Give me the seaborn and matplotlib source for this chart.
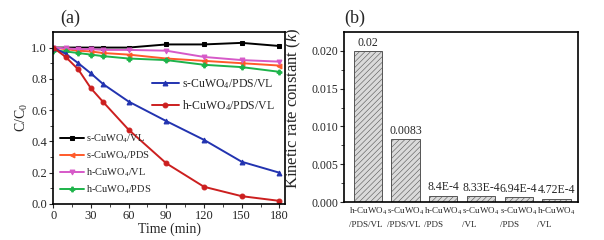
import matplotlib
matplotlib.use("Agg")
import matplotlib.pyplot as plt
import seaborn as sns
import pandas as pd
import numpy as np

# ---- data ----
time = [0, 10, 20, 30, 40, 60, 90, 120, 150, 180]
s_vl = [1.00, 1.00, 1.00, 1.00, 1.00, 1.00, 1.02, 1.02, 1.03, 1.01]
s_pds = [1.00, 0.99, 0.98, 0.975, 0.965, 0.955, 0.93, 0.915, 0.90, 0.885]
h_vl = [1.00, 0.995, 0.99, 0.99, 0.985, 0.985, 0.98, 0.94, 0.92, 0.91]
h_pds = [0.98, 0.975, 0.965, 0.955, 0.945, 0.93, 0.92, 0.89, 0.875, 0.845]
s_pds_vl = [1.00, 0.96, 0.90, 0.835, 0.765, 0.655, 0.53, 0.41, 0.27, 0.20]
h_pds_vl = [1.00, 0.94, 0.86, 0.74, 0.65, 0.475, 0.26, 0.11, 0.05, 0.02]

bar_labels = ["h-CuWO$_4$\n/PDS/VL", "s-CuWO$_4$\n/PDS/VL", "h-CuWO$_4$\n/PDS",
              "s-CuWO$_4$\n/VL", "s-CuWO$_4$\n/PDS", "h-CuWO$_4$\n/VL"]
k_values = [0.02, 0.0083, 8.4e-4, 8.33e-4, 6.94e-4, 4.72e-4]
k_text = ["0.02", "0.0083", "8.4E-4", "8.33E-4", "6.94E-4", "4.72E-4"]

sns.set_theme(style="ticks")
plt.rcParams['font.family'] = ['Liberation Serif', 'DejaVu Serif']
plt.rcParams['mathtext.fontset'] = 'custom'
plt.rcParams['mathtext.rm'] = 'Liberation Serif'
plt.rcParams['mathtext.it'] = 'Liberation Serif:italic'
plt.rcParams['hatch.linewidth'] = 0.4
plt.rcParams['hatch.color'] = '#999999'

fig = plt.figure(figsize=(6.04, 2.4), dpi=100)
ax1 = fig.add_axes([0.088, 0.150, 0.384, 0.717])
ax2 = fig.add_axes([0.570, 0.158, 0.387, 0.709])

series = [
    ("s-CuWO$_4$/VL", s_vl, "black", "s"),
    ("s-CuWO$_4$/PDS", s_pds, "#ff5a2a", "<"),
    ("h-CuWO$_4$/VL", h_vl, "#d659c8", "v"),
    ("h-CuWO$_4$/PDS", h_pds, "#1db34a", "P"),
    ("s-CuWO$_4$/PDS/VL", s_pds_vl, "#2233b0", "^"),
    ("h-CuWO$_4$/PDS/VL", h_pds_vl, "#cc1f1f", "o"),
]
for name, vals, col, mk in series:
    sns.lineplot(x=time, y=vals, ax=ax1, color=col, marker=mk, markersize=3.5,
                 markeredgecolor=col, linewidth=1.4, label=name)

handles, labels = ax1.get_legend_handles_labels()
leg1 = ax1.legend(handles[4:], labels[4:], loc='upper left', bbox_to_anchor=(0.38, 0.80),
                  frameon=False, fontsize=8.5, handlelength=2.3, handletextpad=0.25,
                  labelspacing=0.65)
ax1.add_artist(leg1)
ax1.legend(handles[:4], labels[:4], loc='lower left', bbox_to_anchor=(-0.01, -0.01),
           frameon=False, fontsize=7.5, handlelength=2.3, handletextpad=0.2,
           labelspacing=0.45)

ax1.set_xlim(0, 184.5)
ax1.set_ylim(0, 1.1)
ax1.set_xticks(range(0, 181, 30))
ax1.set_xticks(range(15, 181, 30), minor=True)
ax1.set_yticks(np.arange(0, 1.01, 0.2))
ax1.set_yticks(np.arange(0.1, 1.1, 0.2), minor=True)
ax1.yaxis.set_major_formatter(matplotlib.ticker.FormatStrFormatter('%.1f'))
ax1.set_xlabel("Time (min)", fontsize=10, labelpad=0)
ax1.set_ylabel("C/C$_0$", fontsize=10, labelpad=1)
ax1.tick_params(labelsize=9, length=3, width=0.8, pad=1.5)
ax1.tick_params(which='minor', length=2, width=0.6)
ax1.text(0.03, 1.03, "(a)", transform=ax1.transAxes, fontsize=13, va='bottom')

# ---- bars ----
df = pd.DataFrame({"sample": bar_labels, "k": k_values})
sns.barplot(data=df, x="sample", y="k", ax=ax2, color="#dadada", width=0.75,
            edgecolor="#555555", linewidth=0.7, saturation=1)
for p in ax2.patches:
    p.set_hatch("//////")
for i, (v, t) in enumerate(zip(k_values, k_text)):
    ax2.text(i, v + 0.0003, t, ha='center', va='bottom', fontsize=8.5)

ax2.set_xlim(-0.62, 5.57)
ax2.set_ylim(0, 0.0225)
ax2.set_yticks(np.arange(0, 0.0201, 0.005))
ax2.set_yticks(np.arange(0.0025, 0.0201, 0.005), minor=True)
ax2.yaxis.set_major_formatter(matplotlib.ticker.FormatStrFormatter('%.3f'))
ax2.set_xlabel("")
ax2.set_ylabel("Kinetic rate constant ($k$)", fontsize=12)
ax2.yaxis.set_label_coords(-0.175, 0.55)
ax2.tick_params(axis='y', labelsize=8.5, length=3, width=0.8, pad=1.5)
ax2.tick_params(axis='y', which='minor', length=2, width=0.6)
ax2.tick_params(axis='x', length=0, labelsize=6.5, pad=3)
for lab in ax2.get_xticklabels():
    lab.set_horizontalalignment('center')
    lab.set_multialignment('left')
    lab.set_linespacing(1.6)
ax2.text(0.0, 1.03, "(b)", transform=ax2.transAxes, fontsize=13, va='bottom')

for ax in (ax1, ax2):
    for sp in ax.spines.values():
        sp.set_visible(True)
        sp.set_linewidth(1.2)
        sp.set_color('black')

fig.savefig("out.png", dpi=100)
